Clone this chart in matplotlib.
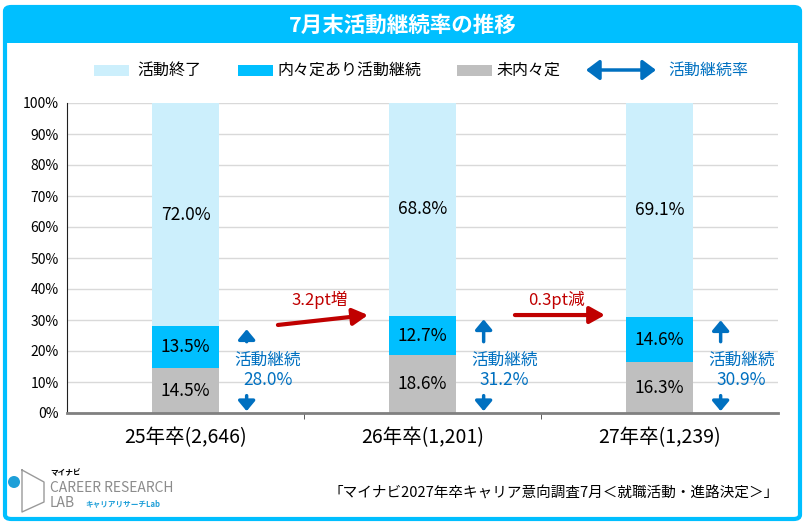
import matplotlib.pyplot as plt
from matplotlib.patches import FancyBboxPatch, Rectangle, Ellipse, FancyArrowPatch
import numpy as np

plt.rcParams['font.family'] = ['Noto Sans CJK JP', 'DejaVu Sans']

categories = ['25年卒(2,646)', '26年卒(1,201)', '27年卒(1,239)']
mi_naitei = [14.5, 18.6, 16.3]
naitei_keizoku = [13.5, 12.7, 14.6]
katsudo_shuryo = [72.0, 68.8, 69.1]
keizoku_rate = [28.0, 31.2, 30.9]
change_labels = ['3.2pt増', '0.3pt減']
legend_labels = ['活動終了', '内々定あり活動継続', '未内々定', '活動継続率']

c_light = '#CCEFFC'
c_cyan = '#00BFFF'
c_gray = '#BFBFBF'
c_blue = '#0070C0'
c_red = '#C00000'

W, H = 805, 527
fig = plt.figure(figsize=(W / 100, H / 100), dpi=100)


def fx(px):
    return px / W


def fy(py):
    return 1 - py / H


# outer frame and title band
fig.patches.append(FancyBboxPatch((fx(5), fy(519)), fx(795), fy(7) - fy(519),
                                  boxstyle='round,pad=0,rounding_size=0.008',
                                  transform=fig.transFigure, fc='white',
                                  ec=c_cyan, lw=3, zorder=-2))
fig.patches.append(Rectangle((fx(5), fy(43)), fx(795), fy(7) - fy(43),
                             transform=fig.transFigure, fc=c_cyan, ec='none', zorder=-1))
fig.text(0.5, fy(25), '7月末活動継続率の推移', color='white', fontsize=15.5,
         fontweight='bold', ha='center', va='center')

ax = fig.add_axes([fx(67), fy(413), fx(778) - fx(67), fy(103) - fy(413)])
ax.set_zorder(2)
ax.patch.set_alpha(0)
x = np.arange(len(categories))
bw = 0.283
ax.bar(x, mi_naitei, bw, color=c_gray, zorder=3)
ax.bar(x, naitei_keizoku, bw, bottom=mi_naitei, color=c_cyan, zorder=3)
bottoms = np.array(mi_naitei) + np.array(naitei_keizoku)
ax.bar(x, katsudo_shuryo, bw, bottom=bottoms, color=c_light, zorder=3)

blue_arrow = dict(arrowstyle='-|>,head_length=0.3,head_width=0.25', color=c_blue,
                  lw=2.5, mutation_scale=20, shrinkA=0, shrinkB=0)
for i in range(len(x)):
    ax.text(x[i], mi_naitei[i] / 2, f'{mi_naitei[i]:.1f}%', ha='center', va='center', fontsize=12.5, zorder=4)
    ax.text(x[i], mi_naitei[i] + naitei_keizoku[i] / 2, f'{naitei_keizoku[i]:.1f}%',
            ha='center', va='center', fontsize=12.5, zorder=4)
    ax.text(x[i], bottoms[i] + katsudo_shuryo[i] / 2, f'{katsudo_shuryo[i]:.1f}%',
            ha='center', va='center', fontsize=12.5, zorder=4)

    # continuation rate markers
    ax_x = x[i] + 0.258
    ax.annotate('', xy=(ax_x, keizoku_rate[i] - 1.0), xytext=(ax_x, 23.0),
                arrowprops=blue_arrow, zorder=4)
    ax.annotate('', xy=(ax_x, 0.6), xytext=(ax_x, 5.6),
                arrowprops=blue_arrow, zorder=4)
    ax.text(x[i] + 0.346, 17.1, '活動継続', color=c_blue, ha='center', va='center', fontsize=12, zorder=4)
    ax.text(x[i] + 0.346, 10.6, f'{keizoku_rate[i]:.1f}%', color=c_blue, ha='center', va='center',
            fontsize=12.5, zorder=4)

# change arrows between years
for i in range(len(change_labels)):
    y0 = 28.4 if i == 0 else 31.6
    ax.annotate('', xy=(x[i] + 0.77, 31.6), xytext=(x[i] + 0.39, y0),
                arrowprops=dict(arrowstyle='-|>,head_length=0.45,head_width=0.25', color=c_red,
                                lw=3, mutation_scale=20, shrinkA=0, shrinkB=0), zorder=4)
    ax.text(x[i] + 0.565, 36.4, change_labels[i], color=c_red, ha='center', va='center', fontsize=12)

ax.set_xlim(-0.5, 2.5)
ax.set_ylim(0, 100)
ax.set_yticks(np.arange(0, 101, 10))
ax.set_yticklabels([f'{v}%' for v in range(0, 101, 10)], fontsize=10)
ax.set_xticks(x)
ax.set_xticklabels(categories, fontsize=14)
ax.set_xticks([0.5, 1.5], minor=True)
ax.tick_params(axis='x', which='major', length=0, pad=10)
ax.tick_params(axis='x', which='minor', length=4, color='#404040', direction='out')
ax.tick_params(axis='y', length=0, pad=6)
ax.grid(axis='y', color='#D9D9D9', lw=1, zorder=0)
for s in ['top', 'right']:
    ax.spines[s].set_visible(False)
ax.spines['left'].set_color('#202020')
ax.spines['bottom'].set_color('#808080')
ax.spines['bottom'].set_linewidth(2)
ax.spines['bottom'].set_zorder(5)

# legend
ly = fy(70)
for px, col, lab, tx in [(94, c_light, legend_labels[0], 137),
                         (238, c_cyan, legend_labels[1], 277),
                         (457, c_gray, legend_labels[2], 496)]:
    fig.patches.append(Rectangle((fx(px), ly - 6 / H), fx(35), 11 / H,
                                 transform=fig.transFigure, fc=col, ec='none'))
    fig.text(fx(tx), ly, lab, fontsize=11.5, ha='left', va='center')
fig.patches.append(FancyArrowPatch((fx(586), ly), (fx(656), ly),
                                   transform=fig.transFigure,
                                   arrowstyle='<|-|>,head_length=0.4,head_width=0.3',
                                   mutation_scale=20, shrinkA=0, shrinkB=0,
                                   color=c_blue, lw=2.5))
fig.text(fx(668), ly, legend_labels[3], fontsize=11.5, color=c_blue, ha='left', va='center')

# footer
fig.text(fx(779), fy(493), '「マイナビ2027年卒キャリア意向調査7月＜就職活動・進路決定＞」',
         fontsize=10.5, ha='right', va='center')
fig.patches.append(Ellipse((fx(14), fy(482)), 12 / W, 12 / H, transform=fig.transFigure,
                           fc='#1E9FD8', ec='none'))
fig.add_artist(plt.Line2D([fx(22), fx(44), fx(44), fx(22), fx(22)],
                          [fy(470), fy(482), fy(502), fy(512), fy(470)],
                          transform=fig.transFigure, color='#9A9A9A', lw=1))
fig.text(fx(50), fy(473), 'マイナビ', fontsize=5.5, fontweight='bold', va='center')
fig.text(fx(50), fy(488), 'CAREER RESEARCH', fontsize=10, color='#8C8C8C', va='center')
fig.text(fx(50), fy(503), 'LAB', fontsize=10, color='#8C8C8C', va='center')
fig.text(fx(85), fy(504), 'キャリアリサーチLab', fontsize=5.5, color='#1E9FD8', fontweight='bold', va='center')

fig.savefig('out.png', dpi=100)
